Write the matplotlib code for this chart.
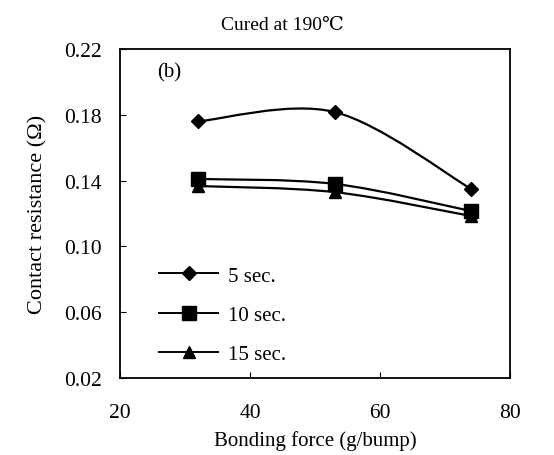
import numpy as np
import matplotlib
matplotlib.use("Agg")
import matplotlib.pyplot as plt
from matplotlib.path import Path
from matplotlib.patches import PathPatch

plt.rcParams["font.family"] = ["Liberation Serif", "DejaVu Serif"]

# Data ------------------------------------------------------------------------
force = [32, 53, 74]
r_5s = [0.176, 0.1817, 0.135]
r_10s = [0.141, 0.138, 0.1215]
r_15s = [0.1367, 0.133, 0.1185]

labels = ["5 sec.", "10 sec.", "15 sec."]
markers = ["D", "s", "^"]
sizes = [7.5, 9.5, 9]


def smooth_path(x, y):
    """Excel-style smoothed line as a cubic bezier path."""
    pts = np.column_stack([x, y]).astype(float)
    n = len(pts)
    verts = [pts[0]]
    codes = [Path.MOVETO]
    for i in range(n - 1):
        p_prev = pts[max(i - 1, 0)]
        p0 = pts[i]
        p1 = pts[i + 1]
        p_next = pts[min(i + 2, n - 1)]
        c1 = p0 + (p1 - p_prev) / 6.0
        c2 = p1 - (p_next - p0) / 6.0
        verts += [c1, c2, p1]
        codes += [Path.CURVE4] * 3
    return Path(verts, codes)


fig = plt.figure(figsize=(5.54, 4.56), dpi=100)
ax = fig.add_axes([120 / 554, 1 - 379 / 456, 390 / 554, 329 / 456])

for ys, lab, m, s in zip([r_5s, r_10s, r_15s], labels, markers, sizes):
    ax.add_patch(PathPatch(smooth_path(force, ys), fill=False, lw=1.6, color="black"))
    ax.plot(force, ys, ls="none", marker=m, ms=s, color="black", zorder=3)
    ax.plot([], [], "-", marker=m, ms=s, color="black", lw=1.4, label=lab)

ax.set_xlim(20, 80)
ax.set_ylim(0.02, 0.22)
ax.set_xticks([20, 40, 60, 80])
ax.set_yticks([0.02, 0.06, 0.10, 0.14, 0.18, 0.22])
ax.set_yticklabels(["0.02", "0.06", "0.10", "0.14", "0.18", "0.22"])
ax.tick_params(direction="in", length=4, labelsize=15.5)
ax.tick_params(axis="y", pad=13)
ax.tick_params(axis="x", pad=18)
for sp in ax.spines.values():
    sp.set_linewidth(1.3)

ax.text(0.095, 0.93, "(b)", transform=ax.transAxes, fontsize=15, va="center")
ax.legend(loc="upper left", bbox_to_anchor=(0.1, 0.34), frameon=False,
          fontsize=15, handlelength=2.85, labelspacing=0.95, handletextpad=0.45,
          borderaxespad=0.0, borderpad=0.0)

fig.text(282 / 554, 1 - 25 / 456, "Cured at 190\u2103", ha="center", va="center", fontsize=14)
ax.set_xlabel("Bonding force (g/bump)", fontsize=15, labelpad=6)
ax.set_ylabel("Contact resistance (\u03a9)", fontsize=16, labelpad=12)

fig.savefig("out.png", dpi=100)
